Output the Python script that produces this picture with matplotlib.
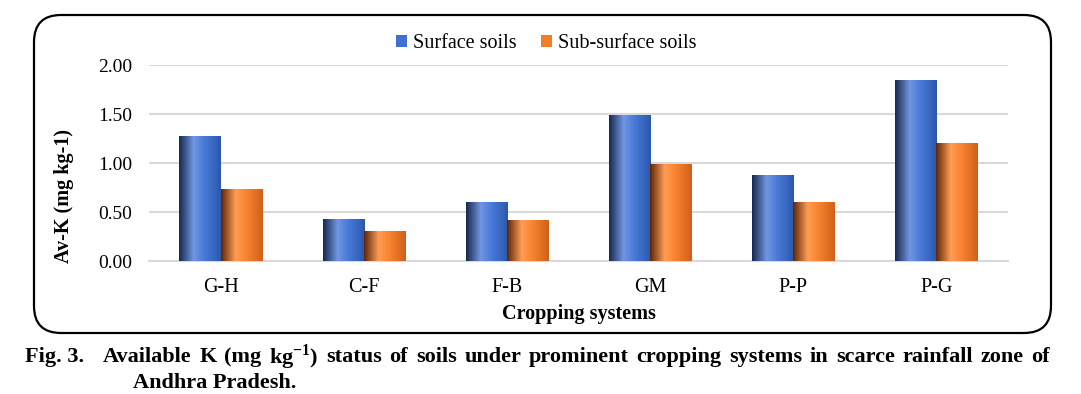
import numpy as np
import matplotlib
matplotlib.use("Agg")
import matplotlib.pyplot as plt
from matplotlib.patches import FancyBboxPatch, Patch
from matplotlib.colors import LinearSegmentedColormap

# ------------------------------------------------------------
# Data
categories = ["G-H", "C-F", "F-B", "GM", "P-P", "P-G"]
surface = [1.27, 0.42, 0.60, 1.48, 0.87, 1.84]
subsurface = [0.73, 0.30, 0.41, 0.98, 0.60, 1.20]
series_names = ["Surface soils", "Sub-surface soils"]
yticks = [0.0, 0.5, 1.0, 1.5, 2.0]

caption_label = "Fig. 3."
caption_line1 = ["Available", "K", "(mg", r"kg$^{\mathbf{-1}}$)", "status", "of", "soils",
                 "under", "prominent", "cropping", "systems", "in", "scarce", "rainfall",
                 "zone", "of"]
caption_line2 = "Andhra Pradesh."

plt.rcParams['font.family'] = ['Liberation Serif', 'DejaVu Serif']
plt.rcParams['mathtext.fontset'] = 'custom'
plt.rcParams['mathtext.rm'] = 'Liberation Serif'
plt.rcParams['mathtext.bf'] = 'Liberation Serif:bold'

# gradient colormaps (dark left edge, highlight, then body colour)
blue_cmap = LinearSegmentedColormap.from_list(
    "blue", [(0.0, "#17284d"), (0.35, "#7096e2"), (0.6, "#4a7ad8"), (1.0, "#2b58ad")])
orange_cmap = LinearSegmentedColormap.from_list(
    "orange", [(0.0, "#5a2608"), (0.35, "#ff9c55"), (0.6, "#f98431"), (1.0, "#d0601a")])

W, H = 1081, 394
fig = plt.figure(figsize=(W / 100, H / 100), dpi=100)

# rounded frame round the chart
frame = FancyBboxPatch((34 / W, 1 - 333 / H), (1051 - 34) / W, (333 - 15) / H,
                       boxstyle="round,pad=0,rounding_size=0.025",
                       transform=fig.transFigure, fill=False, edgecolor="black",
                       linewidth=1.6, mutation_aspect=W / H)
fig.patches.append(frame)

ax = fig.add_axes([149 / W, 1 - 261 / H, (1008 - 149) / W, (261 - 65) / H])

x = np.arange(len(categories))
w = 0.287
grad = np.linspace(0, 1, 256).reshape(1, -1)

for vals, cmap, off in [(surface, blue_cmap, -w / 2), (subsurface, orange_cmap, w / 2)]:
    bars = ax.bar(x + off, vals, width=w, color="none", edgecolor="none", zorder=3)
    for b in bars:
        x0, y0 = b.get_x(), b.get_y()
        ax.imshow(grad, cmap=cmap, aspect="auto", zorder=3,
                  extent=[x0, x0 + b.get_width(), y0, y0 + b.get_height()])

ax.set_xlim(-0.5, len(categories) - 0.5)
ax.set_ylim(0, 2.0)
ax.set_yticks(yticks)
ax.set_yticklabels(["%.2f" % t for t in yticks], fontsize=14)
ax.set_xticks(x)
ax.set_xticklabels(categories, fontsize=14.5)
ax.tick_params(length=0)
ax.tick_params(axis='x', pad=12)
ax.tick_params(axis='y', pad=12)
ax.grid(axis='y', color="#d9d9d9", linewidth=1.5, zorder=0)
ax.set_axisbelow(True)
for s in ["top", "right", "left"]:
    ax.spines[s].set_visible(False)
ax.spines["bottom"].set_color("#d9d9d9")
ax.spines["bottom"].set_linewidth(1.5)

ax.set_ylabel("Av-K (mg kg-1)", fontsize=14.5, fontweight="bold")
ax.yaxis.set_label_coords((74 - 149) / 859, (261 - 196) / 196)
ax.set_xlabel("Cropping systems", fontsize=14.5, fontweight="bold")
ax.xaxis.set_label_coords(0.5, -(304 - 261) / 196)

handles = [Patch(facecolor="#3f6fcf"), Patch(facecolor="#f07d2a")]
fig.legend(handles, series_names, loc="center", bbox_to_anchor=(546 / W, 1 - 44 / H),
           ncol=2, frameon=False, fontsize=14.5, handlelength=0.55, handleheight=0.55,
           handletextpad=0.3, columnspacing=1.2)

# caption, first line justified up to the frame edge
cap_kw = dict(fontsize=16, fontweight="bold", va="center", ha="left")
renderer = fig.canvas.get_renderer()
fig.text(25 / W, 1 - 357 / H, caption_label, **cap_kw)
left, right = 103, 1050
texts = [fig.text(0, 1 - 357 / H, wd, **cap_kw) for wd in caption_line1]
widths = [t.get_window_extent(renderer).width for t in texts]
gap = (right - left - sum(widths)) / (len(caption_line1) - 1)
pos = left
for t, wd in zip(texts, widths):
    t.set_x(pos / W)
    pos += wd + gap
fig.text(133 / W, 1 - 383 / H, caption_line2, **cap_kw)

fig.savefig("out.png", dpi=100)
